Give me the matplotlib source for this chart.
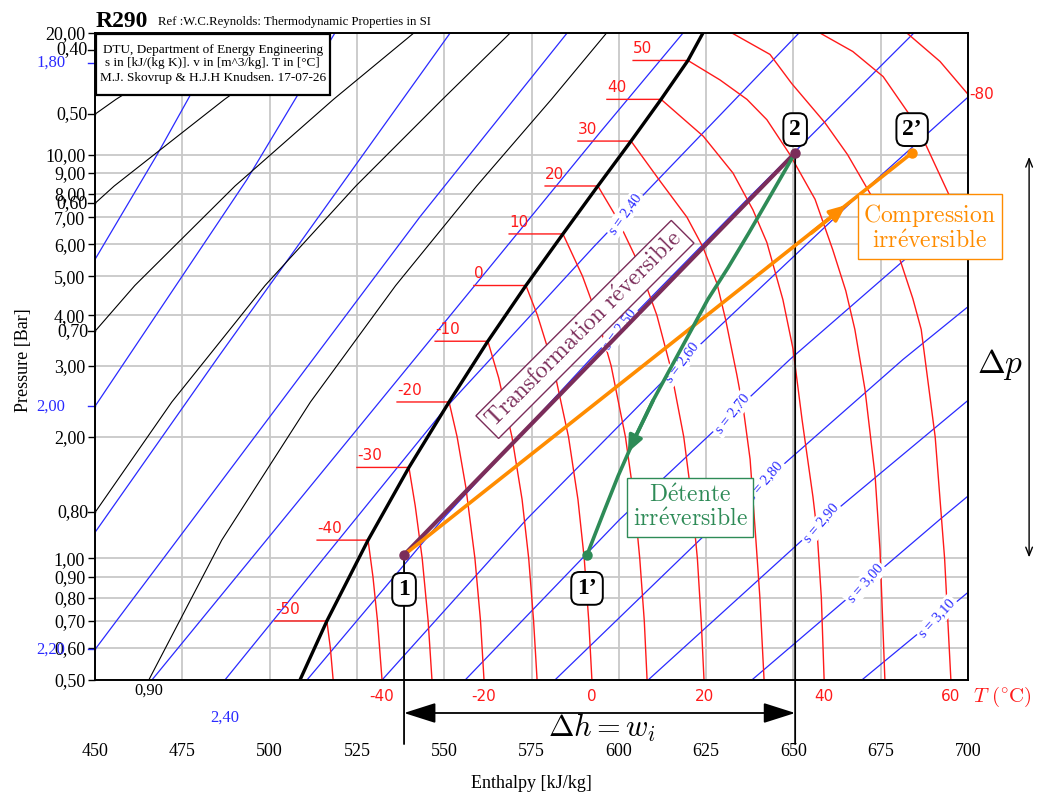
import numpy as np
import matplotlib.pyplot as plt
from matplotlib.patches import Rectangle
from matplotlib.transforms import blended_transform_factory

plt.rcParams['mathtext.fontset'] = 'cm'
plt.rcParams['font.family'] = ['Liberation Serif', 'DejaVu Serif']

# saturated vapour line (h in kJ/kg, p in bar)
sat_h = [508.7, 516.4, 528.2, 539.9, 551.4, 562.5, 573.4, 584.0, 594.0, 603.5, 612.1, 619.8, 624.1]
sat_p = [0.50, 0.70, 1.11, 1.68, 2.44, 3.45, 4.74, 6.36, 8.36, 10.8, 13.7, 17.1, 20.0]

# isotherms (deg C), first point = left end of the plateau
iso_T = [-50, -40, -30, -20, -10, 0, 10, 20, 30, 40, 50, 60, 70, 80]
iso_h = [
    [501.5, 516.4, 517.4, 518.2],
    [513.6, 528.2, 529.6, 530.9, 532.2],
    [525.0, 539.9, 541.7, 543.7, 545.4, 546.5],
    [536.5, 551.4, 553.7, 556.2, 558.8, 560.4, 561.4],
    [547.4, 562.5, 565.6, 569.4, 572.3, 574.2, 575.6, 576.6],
    [558.5, 573.4, 576.7, 581.2, 585.6, 588.3, 590.1, 591.4, 592.3],
    [568.6, 584.0, 589.6, 593.7, 597.8, 601.9, 604.4, 606.0, 607.3, 608.1],
    [578.9, 594.0, 599.3, 605.1, 610.9, 614.7, 618.6, 620.9, 622.5, 623.6, 624.4],
    [588.3, 603.5, 611.8, 619.5, 624.1, 628.1, 630.6, 633.8, 635.8, 637.6, 639.2, 640.4, 641.6],
    [596.6, 612.1, 624.2, 632.7, 638.4, 642.4, 647.0, 649.9, 652.5, 655.6, 656.8, 658.0, 658.8],
    [604.1, 619.8, 629.0, 636.7, 642.4, 649.0, 656.2, 661.3, 665.0, 667.6, 670.5, 673.4, 674.8, 676.2],
    [632.4, 643.3, 649.5, 659.0, 665.5, 672.0, 677.0, 680.5, 684.2, 686.6, 690.6, 693.3, 695.1],
    [657.6, 667.0, 675.7, 685.4, 688.3, 694.8, 700.0],
    [682.5, 692.0, 700.0],
]
iso_p = [
    [0.70, 0.70, 0.60, 0.50],
    [1.11, 1.11, 0.90, 0.70, 0.50],
    [1.68, 1.68, 1.35, 1.00, 0.70, 0.50],
    [2.44, 2.44, 2.00, 1.50, 1.00, 0.70, 0.50],
    [3.45, 3.45, 2.80, 2.00, 1.40, 1.00, 0.70, 0.50],
    [4.74, 4.74, 4.00, 3.00, 2.00, 1.40, 1.00, 0.70, 0.50],
    [6.36, 6.36, 5.00, 4.00, 3.00, 2.00, 1.40, 1.00, 0.70, 0.50],
    [8.36, 8.36, 7.00, 5.50, 4.00, 3.00, 2.00, 1.40, 1.00, 0.70, 0.50],
    [10.8, 10.8, 8.60, 7.00, 5.90, 4.80, 3.90, 2.85, 2.30, 1.76, 1.13, 0.80, 0.50],
    [13.7, 13.7, 11.1, 9.00, 7.30, 6.06, 4.37, 3.30, 2.20, 1.42, 1.16, 0.80, 0.50],
    [17.1, 17.1, 15.3, 13.7, 12.2, 10.0, 7.75, 5.80, 4.60, 3.69, 2.62, 1.60, 1.05, 0.50],
    [20.0, 17.7, 15.0, 12.0, 10.0, 8.00, 6.50, 5.50, 4.40, 3.69, 2.00, 1.00, 0.50],
    [20.0, 18.0, 15.6, 11.8, 10.4, 7.87, 6.20],
    [20.0, 17.0, 14.1],
]

# isentropes, s in kJ/(kg K)
s_vals = [1.80, 1.90, 2.00, 2.10, 2.20, 2.30, 2.40, 2.50, 2.60, 2.70, 2.80, 2.90, 3.00, 3.10]
s_h = [
    [450.0, 454.9],
    [450.0, 467.8, 487.2],
    [450.0, 493.5, 518.7],
    [450.0, 485.2, 551.7],
    [450.0, 543.1, 585.2],
    [466.3, 594.6, 618.4],
    [487.2, 550.8, 592.9, 603.8, 651.6],
    [510.7, 549.5, 591.8, 636.7, 684.5],
    [532.2, 573.6, 618.8, 667.4, 699.7],
    [556.0, 600.3, 649.0, 699.7],
    [581.7, 629.3, 681.4, 699.7],
    [608.4, 659.1, 699.7],
    [638.1, 692.0, 699.7],
    [669.6, 699.7],
]
s_p = [
    [16.9, 20.0],
    [5.50, 10.0, 20.0],
    [2.38, 8.67, 20.0],
    [1.16, 3.145, 20.0],
    [0.595, 7.02, 20.0],
    [0.50, 11.34, 20.0],
    [0.50, 2.38, 5.92, 7.43, 20.0],
    [0.50, 1.25, 3.11, 7.74, 20.0],
    [0.50, 1.25, 3.11, 7.74, 13.8],
    [0.50, 1.25, 3.11, 7.48],
    [0.50, 1.25, 3.11, 4.18],
    [0.50, 1.25, 2.45],
    [0.50, 1.25, 1.42],
    [0.50, 0.82],
]

# vapour quality lines
quality_x = [0.4, 0.5, 0.6, 0.7, 0.8, 0.9]
quality_p = [0.50, 1.11, 2.44, 4.74, 8.36, 13.7, 20.0]
quality_h = [
    [249.1, 277.2, 313.5, 349.4, 386.4, 424.8, 458.4],
    [292.4, 319.1, 353.2, 386.7, 421.0, 456.0, 486.1],
    [335.6, 360.9, 392.8, 424.0, 455.5, 487.1, 513.7],
    [378.9, 402.7, 432.4, 461.4, 490.1, 518.3, 541.3],
    [422.2, 444.5, 472.0, 498.7, 524.7, 549.5, 568.9],
    [465.4, 486.3, 511.7, 536.1, 559.3, 580.7, 596.5],
]

# cycle points and the irreversible expansion path
pt_names = ['1', '2', '1\u2019', '2\u2019']
pt_h = [538.5, 650.5, 590.9, 684.0]
pt_p = [1.02, 10.1, 1.02, 10.1]
exp_h = [650.5, 643.6, 637.3, 631.3, 625.5, 620.4, 615.2, 609.8, 604.4, 599.8, 595.8, 592.9, 590.9]
exp_p = [10.1, 7.96, 6.41, 5.25, 4.38, 3.63, 3.00, 2.46, 1.97, 1.60, 1.31, 1.13, 1.02]

h_ticks = [450, 475, 500, 525, 550, 575, 600, 625, 650, 675, 700]
p_ticks = [20, 10, 9, 8, 7, 6, 5, 4, 3, 2, 1, 0.9, 0.8, 0.7, 0.6, 0.5]

BLUE = '#2a2aff'
RED = '#ff1a1a'
PURPLE = '#7b2d5a'
ORANGE = '#ff8c00'
GREEN = '#2e8b57'

fig = plt.figure(figsize=(10.38, 7.96), dpi=100)
ax = fig.add_axes([95 / 1038, 1 - 680 / 796, 873 / 1038, 647 / 796])
ax.set_yscale('log')
ax.set_xlim(450, 700)
ax.set_ylim(0.5, 20)
ax.set_axisbelow(True)

ax.set_xticks(h_ticks)
ax.set_xticklabels([str(v) for v in h_ticks])
ax.set_yticks(p_ticks)
ax.set_yticklabels([f"{v:.2f}".replace('.', ',') for v in p_ticks])
ax.yaxis.set_minor_locator(plt.NullLocator())
ax.tick_params(axis='x', length=0, pad=45, labelsize=13)
ax.tick_params(axis='y', length=5, width=1, pad=2, labelsize=13)
ax.grid(True, color='#c8c8c8', lw=1.3)
for sp in ax.spines.values():
    sp.set_linewidth(1.4)

ax.set_xlabel('Enthalpy [kJ/kg]', fontsize=13)
ax.xaxis.set_label_coords(0.5, -0.147)
ax.set_ylabel('Pressure [Bar]', fontsize=13)
ax.yaxis.set_label_coords(-0.072, 0.495)

tr_xa = blended_transform_factory(ax.transData, ax.transAxes)
tr_ay = blended_transform_factory(ax.transAxes, ax.transData)

# property lines
for h, p in zip(s_h, s_p):
    ax.plot(h, p, color=BLUE, lw=0.9, zorder=1)
for h in quality_h:
    ax.plot(h, quality_p, color='black', lw=0.8, zorder=1)
for h, p in zip(iso_h, iso_p):
    ax.plot(h, p, color=RED, lw=1.0, zorder=1.5)
ax.plot(sat_h, sat_p, color='black', lw=2.4, zorder=2)

# isotherm labels
for T, h, p in zip(iso_T, iso_h, iso_p):
    if T <= 50:
        ax.annotate(str(T), xy=(h[0], p[0]), xytext=(0, 3), textcoords='offset points',
                    ha='left', va='bottom', color=RED, fontsize=11, family='DejaVu Sans')
    if T in (-40, -20, 0, 20, 40, 60):
        ax.text(h[-1], -0.026, str(T), transform=tr_xa, ha='center', va='center',
                color=RED, fontsize=11, family='DejaVu Sans')
ax.text(700.3, iso_p[-1][-1], '-80', ha='left', va='center', color=RED, fontsize=11,
        family='DejaVu Sans')

# isentrope labels on the lines
s_label_h = {2.40: 601.8, 2.50: 600.3, 2.60: 618.1, 2.70: 632.4,
             2.80: 641.9, 2.90: 657.9, 3.00: 670.5, 3.10: 691.1}
for s, h, p in zip(s_vals, s_h, s_p):
    if s not in s_label_h:
        continue
    hl = s_label_h[s]
    lp = np.log10(p)
    pl = 10 ** np.interp(hl, h, lp)
    a = ax.transData.transform((hl - 3, 10 ** np.interp(hl - 3, h, lp)))
    b = ax.transData.transform((hl + 3, 10 ** np.interp(hl + 3, h, lp)))
    ang = np.degrees(np.arctan2(b[1] - a[1], b[0] - a[0]))
    ax.text(hl, pl, f"s = {s:.2f}".replace('.', ','), rotation=ang + 8, rotation_mode='anchor',
            ha='center', va='center', color=BLUE, fontsize=10.5, zorder=2.5,
            bbox=dict(boxstyle='square,pad=0.15', fc='white', ec='none'))

# left edge labels (quality and entropy)
for x, h in zip(quality_x[:5], quality_h[:5]):
    pl = 10 ** np.interp(450, h, np.log10(quality_p))
    ax.text(-0.008, pl, f"{x:.2f}".replace('.', ','), transform=tr_ay, ha='right',
            va='center', fontsize=13, clip_on=False)
    ax.plot([-0.008, 0], [pl, pl], transform=tr_ay, color='black', lw=1, clip_on=False)
for s, p in zip(s_vals, s_p):
    if s in (1.80, 2.00, 2.20):
        ax.text(-0.034, p[0], f"{s:.2f}".replace('.', ','), transform=tr_ay, ha='right',
                va='center', fontsize=12, color=BLUE, clip_on=False)
        ax.plot([-0.008, 0], [p[0], p[0]], transform=tr_ay, color=BLUE, lw=1, clip_on=False)
ax.text(quality_h[5][0], -0.017, '0,90', transform=tr_xa, ha='center', va='center', fontsize=12)
ax.text(s_h[6][0], -0.058, '2,40', transform=tr_xa, ha='center', va='center', fontsize=12,
        color=BLUE)

# processes
ax.plot([pt_h[0], pt_h[1]], [pt_p[0], pt_p[1]], color=PURPLE, lw=3, zorder=4,
        solid_capstyle='round')
ax.plot([pt_h[0], pt_h[3]], [pt_p[0], pt_p[3]], color=ORANGE, lw=2.6, zorder=4)
ax.plot(exp_h, exp_p, color=GREEN, lw=2.6, zorder=4)
ax.annotate('', xy=(665.1, 7.50), xytext=(655.0, 6.38),
            arrowprops=dict(arrowstyle='-|>,head_length=0.7,head_width=0.3', color=ORANGE,
                            lw=2.6, mutation_scale=14, shrinkA=0, shrinkB=0), zorder=4)
ax.annotate('', xy=(602.6, 1.83), xytext=(609.8, 2.46),
            arrowprops=dict(arrowstyle='-|>,head_length=0.7,head_width=0.3', color=GREEN,
                            lw=2.6, mutation_scale=14, shrinkA=0, shrinkB=0), zorder=4)
for h, p, c in zip(pt_h, pt_p, [PURPLE, PURPLE, GREEN, ORANGE]):
    ax.plot(h, p, 'o', color=c, ms=6.5, zorder=4.5)

# vertical guides and delta h arrow
for h, p in zip(pt_h[:2], pt_p[:2]):
    ax.annotate('', xy=(h, -0.099), xycoords=tr_xa, xytext=(h, p), textcoords='data',
                arrowprops=dict(arrowstyle='-', lw=1.3, color='black', shrinkA=0, shrinkB=0),
                annotation_clip=False, zorder=3)
ax.annotate('', xy=(pt_h[0], -0.051), xycoords=tr_xa, xytext=(pt_h[1], -0.051),
            textcoords=tr_xa, annotation_clip=False,
            arrowprops=dict(arrowstyle='<|-|>,head_length=1.1,head_width=0.35', lw=1.3,
                            color='black', mutation_scale=18, shrinkA=0, shrinkB=0))
ax.text(595.0, -0.074, r'$\Delta h = w_i$', transform=tr_xa, ha='center', va='center',
        fontsize=22)
ax.annotate('', xy=(1.07, 9.87), xycoords=tr_ay, xytext=(1.07, 1.006), textcoords=tr_ay,
            annotation_clip=False,
            arrowprops=dict(arrowstyle='<->,head_length=0.5,head_width=0.2', lw=1.0,
                            color='black', mutation_scale=12, shrinkA=0, shrinkB=0))
ax.text(1.037, 3.02, r'$\Delta p$', transform=tr_ay, ha='center', va='center', fontsize=24)
ax.text(1.040, -0.026, r'$T\ (^{\circ}\mathrm{C})$', transform=ax.transAxes, ha='center',
        va='center', fontsize=15, color=RED)

# point labels
pt_lab_p = [0.838, 11.53, 0.843, 11.53]
for name, h, p in zip(pt_names, pt_h, pt_lab_p):
    ax.text(h, p, name, ha='center', va='center', fontsize=17, fontweight='bold', zorder=6,
            bbox=dict(boxstyle='round,pad=0.25,rounding_size=0.35', fc='white', ec='black',
                      lw=1.4))

# annotation boxes
ax.text(590.3, 3.69, r'$\mathrm{Transformation\ r\acute{e}versible}$', rotation=45,
        rotation_mode='anchor', ha='center', va='center', fontsize=17, color=PURPLE, zorder=5,
        bbox=dict(boxstyle='square,pad=0.2', fc='white', ec=PURPLE, lw=1))
ax.text(689.1, 6.60, '$\\mathrm{Compression}$\n$\\mathrm{irr\\acute{e}versible}$',
        ha='center', va='center', fontsize=17, color=ORANGE, zorder=5, linespacing=1.1,
        bbox=dict(boxstyle='square,pad=0.25', fc='white', ec=ORANGE, lw=1))
ax.text(620.4, 1.337, '$\\mathrm{D\\acute{e}tente}$\n$\\mathrm{irr\\acute{e}versible}$',
        ha='center', va='center', fontsize=17, color=GREEN, zorder=5, linespacing=1.1,
        bbox=dict(boxstyle='square,pad=0.25', fc='white', ec=GREEN, lw=1))

# header and info box
fig.text(96 / 1038, 1 - 27 / 796, 'R290', fontsize=17, fontweight='bold', va='baseline')
fig.text(158 / 1038, 1 - 25 / 796, 'Ref :W.C.Reynolds: Thermodynamic Properties in SI',
         fontsize=9.2, va='baseline')
ax.add_patch(Rectangle((0.001, 0.904), 0.268, 0.095, transform=ax.transAxes, fc='white',
                       ec='black', lw=1.6, zorder=7))
info = ['DTU, Department of Energy Engineering',
        's in [kJ/(kg K)]. v in [m^3/kg]. T in [\u00b0C]',
        'M.J. Skovrup & H.J.H Knudsen. 17-07-26']
for txt, yy in zip(info, [0.974, 0.953, 0.930]):
    ax.text(0.135, yy, txt, transform=ax.transAxes, ha='center', va='center', fontsize=9.5,
            zorder=8)

fig.savefig('out.png', dpi=100)
